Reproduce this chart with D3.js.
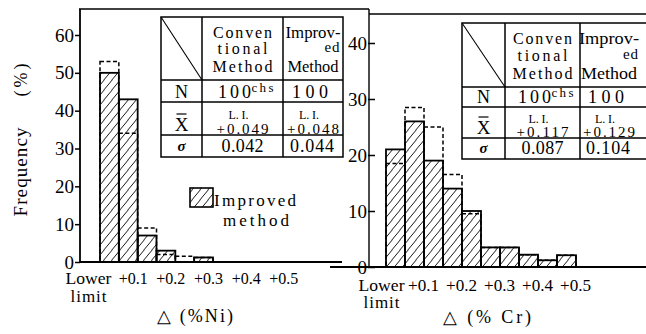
<!DOCTYPE html>
<html>
<head>
<meta charset="utf-8">
<script src="https://cdn.jsdelivr.net/npm/d3@7"></script>
<style>
  html, body { margin: 0; padding: 0; background: #fff; }
  svg { display: block; }
</style>
</head>
<body>
<script>
// ---- data ----
const binWidth = 0.05;

// Δ(%Ni) panel (bins start at the lower limit)
const niBins = [0, 0.05, 0.1, 0.15, 0.2, 0.25];
const niImproved = [50, 43, 7, 3, 0, 1.2];
const niConventional = [53, 34, 9, 2, 1.5, 1.2];

// Δ(%Cr) panel
const crBins = [0, 0.05, 0.1, 0.15, 0.2, 0.25, 0.3, 0.35, 0.4, 0.45];
const crImproved = [21, 26, 19, 14, 10, 3.5, 3.5, 2.2, 1.2, 2.1];
const crConventional = [18.5, 28.5, 25, 16.5, 9.5, 3.5, 3.5, 2.2, 1.2, 2.1];

const xTicks = [0, 0.1, 0.2, 0.3, 0.4, 0.5];
const xTickLabels = ["Lower", "+0.1", "+0.2", "+0.3", "+0.4", "+0.5"];
const niYTicks = [0, 10, 20, 30, 40, 50, 60];
const crYTicks = [0, 10, 20, 30, 40];

// summary tables: [conventional, improved]
const niN = ["100", "100"];
const niMean = ["+0.049", "+0.048"];
const niSigma = ["0.042", "0.044"];
const crN = ["100", "100"];
const crMean = ["+0.117", "+0.129"];
const crSigma = ["0.087", "0.104"];

const width = 646, height = 334;
const FONT = "Liberation Serif";

const svg = d3.select("body").append("svg")
  .attr("width", width)
  .attr("height", height)
  .attr("viewBox", [0, 0, width, height])
  .attr("font-family", FONT);

// hatch for the improved method
svg.append("defs").append("pattern")
  .attr("id", "hatch")
  .attr("patternUnits", "userSpaceOnUse")
  .attr("width", 8).attr("height", 10)
  .append("path")
  .attr("d", "M-1,11 L9,-1 M-9,11 L1,-1 M7,11 L17,-1")
  .attr("stroke", "#000")
  .attr("stroke-width", 0.9);

// scales
const xNi = d3.scaleLinear().domain([0, 0.3]).range([100, 213]);
const yNi = d3.scaleLinear().domain([0, 60]).range([262, 35]);
const xCr = d3.scaleLinear().domain([0, 0.5]).range([386, 576]);
const yCr = d3.scaleLinear().domain([0, 40]).range([267, 43]);

// frame lines
const frame = svg.append("g").attr("stroke", "#000").attr("fill", "none");
frame.append("line").attr("x1", 79).attr("x2", 369).attr("y1", 9).attr("y2", 9).attr("stroke-width", 1.4);
frame.append("line").attr("x1", 80).attr("x2", 80).attr("y1", 9).attr("y2", 262).attr("stroke-width", 1.8);
frame.append("line").attr("x1", 369).attr("x2", 369).attr("y1", 9).attr("y2", 267).attr("stroke-width", 1.4);
frame.append("line").attr("x1", 369).attr("x2", 646).attr("y1", 14).attr("y2", 14).attr("stroke-width", 1.4);
frame.append("line").attr("x1", 80).attr("x2", 342).attr("y1", 262).attr("y2", 262).attr("stroke-width", 1.8);
frame.append("line").attr("x1", 330).attr("x2", 646).attr("y1", 267).attr("y2", 267).attr("stroke-width", 1.8);

function drawPanel(x, y, bins, imp, conv, yTicks, axisX, tickLen, labelDx, lowerDx, labelPad, limitGap, labelLen) {
  const g = svg.append("g");

  // improved: hatched, solid outline
  g.selectAll(".imp")
    .data(d3.range(bins.length).filter(i => imp[i] > 0))
    .join("rect")
    .attr("class", "imp")
    .attr("x", i => x(bins[i]))
    .attr("width", i => x(bins[i] + binWidth) - x(bins[i]))
    .attr("y", i => y(imp[i]))
    .attr("height", i => y(0) - y(imp[i]))
    .attr("fill", "url(#hatch)")
    .attr("stroke", "#000")
    .attr("stroke-width", 1.8);

  // conventional: dashed outline
  g.selectAll(".conv")
    .data(d3.range(bins.length).filter(i => conv[i] > 0))
    .join("rect")
    .attr("class", "conv")
    .attr("x", i => x(bins[i]))
    .attr("width", i => x(bins[i] + binWidth) - x(bins[i]))
    .attr("y", i => y(conv[i]))
    .attr("height", i => y(0) - y(conv[i]))
    .attr("fill", "none")
    .attr("stroke", "#000")
    .attr("stroke-width", 1.5)
    .attr("stroke-dasharray", "4,2.5");

  // y axis
  const ya = g.append("g")
    .attr("transform", `translate(${axisX},0)`)
    .call(d3.axisLeft(y).tickValues(yTicks).tickSize(tickLen).tickPadding(1).tickFormat(d3.format("d")));
  ya.attr("font-family", FONT);
  ya.select(".domain").remove();
  ya.selectAll(".tick line").attr("stroke-width", 1.5);
  ya.selectAll("text")
    .attr("font-size", 19)
    .attr("fill", "#000");

  // x axis (labels only)
  const xa = g.append("g")
    .attr("transform", `translate(0,${y(0)})`)
    .call(d3.axisBottom(x).tickValues(xTicks).tickSize(0).tickPadding(labelPad)
      .tickFormat((d, i) => xTickLabels[i]));
  xa.attr("font-family", FONT);
  xa.select(".domain").remove();
  xa.selectAll("text")
    .attr("font-size", 17)
    .attr("fill", "#000")
    .attr("dx", (d, i) => i === 0 ? lowerDx : labelDx)
    .attr("lengthAdjust", "spacingAndGlyphs")
    .attr("textLength", (d, i) => i === 0 ? 46 : labelLen);
  xa.selectAll(".tick").filter((d, i) => i === 0)
    .append("text")
    .attr("fill", "#000")
    .attr("font-size", 17)
    .attr("x", lowerDx)
    .attr("y", labelPad + limitGap)
    .attr("dy", "0.71em")
    .attr("textLength", 36)
    .attr("lengthAdjust", "spacing")
    .text("limit");
  return g;
}

drawPanel(xNi, yNi, niBins, niImproved, niConventional, niYTicks, 80, 5, -5, -12, 10, 18, 29);
drawPanel(xCr, yCr, crBins, crImproved, crConventional, crYTicks, 375, 7, -1, -5, 12, 17, 31);

// summary tables
function drawTable(cols, rows, nVals, meanVals, sigmaVals, col3Center, col3Width) {
  const g = svg.append("g");
  const [c0, c1, c2, c3] = cols;
  const [r0, r1, r2, r3, r4] = rows;
  const ln = g.append("g").attr("stroke", "#000").attr("stroke-width", 1.5).attr("fill", "none");
  ln.append("rect").attr("x", c0).attr("y", r0).attr("width", c3 - c0).attr("height", r4 - r0);
  [c1, c2].forEach(c => ln.append("line").attr("x1", c).attr("x2", c).attr("y1", r0).attr("y2", r4));
  [r1, r2, r3].forEach(r => ln.append("line").attr("x1", c0).attr("x2", c3).attr("y1", r).attr("y2", r));
  ln.append("line").attr("x1", c0).attr("y1", r0).attr("x2", c1).attr("y2", r1).attr("stroke-width", 1.1);

  const t = (x, yy, s, size, len, anchor, adjust) => {
    const el = g.append("text").attr("x", x).attr("y", yy).attr("font-size", size)
      .attr("text-anchor", anchor || "middle").text(s);
    if (len) el.attr("textLength", len).attr("lengthAdjust", adjust || "spacing");
    return el;
  };
  const m2 = (c1 + c2) / 2;
  const mc = (c0 + c1) / 2;
  const h = r1 - r0;
  // header
  t(m2, r0 + h * 0.33, "Conven", 16, 59);
  t(m2, r0 + h * 0.59, "tional", 16, 50);
  t(m2, r0 + h * 0.87, "Method", 16, 60);
  t(col3Center, r0 + h * 0.33, "Improv-", 16, col3Width, "middle", "spacingAndGlyphs");
  t(col3Center + col3Width / 2 - 1, r0 + h * 0.56, "ed", 15, 15, "end");
  t(col3Center, r0 + h * 0.87, "Method", 16, col3Width - 4, "middle", "spacingAndGlyphs");
  // N row
  t(mc, r2 - 4, "N", 18);
  t(m2 - 8, r2 - 4, nVals[0], 18, 33);
  t(m2 + 9, r2 - 10, "chs", 13, 22, "start");
  t(col3Center - 3, r2 - 4, nVals[1], 18, 36);
  // mean row
  t(mc, r3 - 4, "X", 19);
  g.append("line").attr("x1", mc - 5).attr("x2", mc + 5)
    .attr("y1", r3 - 21).attr("y2", r3 - 21).attr("stroke", "#000").attr("stroke-width", 1.2);
  t(m2 - 4, r2 + (r3 - r2) * 0.5, "L. I.", 12, 20);
  t(m2, r3 - 1, meanVals[0], 15, 52);
  t(col3Center - 4, r2 + (r3 - r2) * 0.5, "L. I.", 12, 20);
  t(col3Center, r3 - 1, meanVals[1], 15, 52);
  // sigma row
  t(mc, r4 - 6, "σ", 15).attr("font-style", "italic").attr("font-weight", "bold");
  t(m2, r4 - 5, sigmaVals[0], 18, 42);
  t(col3Center - 1, r4 - 5, sigmaVals[1], 18, 44);
}

drawTable([161, 202, 283, 343], [17, 80, 102, 135, 157], niN, niMean, niSigma, 313, 55);
drawTable([462, 505, 580, 680], [23, 87, 107, 138, 159], crN, crMean, crSigma, 609, 60);

// legend
svg.append("rect").attr("x", 190).attr("y", 188).attr("width", 23).attr("height", 19)
  .attr("fill", "url(#hatch)").attr("stroke", "#000").attr("stroke-width", 1.6);
svg.append("text").attr("x", 214).attr("y", 206).attr("font-size", 17)
  .attr("textLength", 82).attr("lengthAdjust", "spacing").text("Improved");
svg.append("text").attr("x", 223).attr("y", 226).attr("font-size", 17)
  .attr("textLength", 66).attr("lengthAdjust", "spacing").text("method");

// axis titles
svg.append("text").attr("transform", "translate(27,172) rotate(-90)")
  .attr("text-anchor", "middle").attr("font-size", 19)
  .attr("textLength", 89).attr("lengthAdjust", "spacing").text("Frequency");
svg.append("text").attr("transform", "translate(27,80) rotate(-90)")
  .attr("text-anchor", "middle").attr("font-size", 18)
  .attr("textLength", 33).attr("lengthAdjust", "spacing").text("(%)");
svg.append("text").attr("x", 195).attr("y", 322).attr("text-anchor", "middle")
  .attr("font-size", 18).attr("textLength", 76).attr("lengthAdjust", "spacing")
  .text("△ (%Ni)");
svg.append("text").attr("x", 487).attr("y", 323).attr("text-anchor", "middle")
  .attr("font-size", 18).attr("textLength", 88).attr("lengthAdjust", "spacing")
  .text("△ (% Cr)");
</script>
</body>
</html>
